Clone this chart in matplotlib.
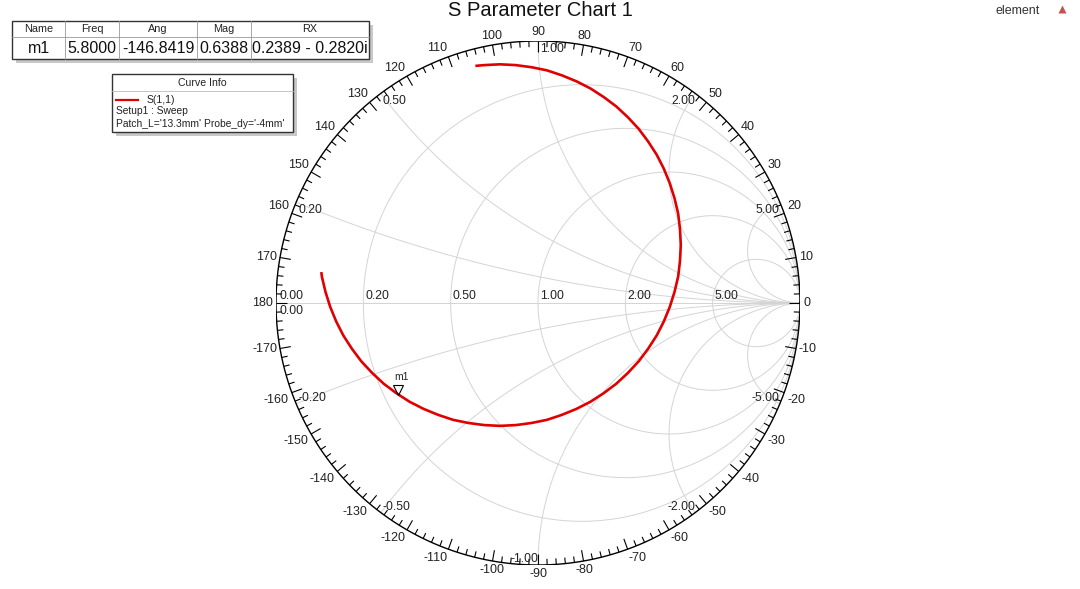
import numpy as np
import matplotlib.pyplot as plt
from matplotlib.patches import Rectangle
from matplotlib.collections import LineCollection
from matplotlib.transforms import offset_copy

plt.rcParams['font.family'] = ['Liberation Sans', 'DejaVu Sans']

s11_re = [-0.239, -0.205, -0.145, -0.085, -0.025, 0.034, 0.091, 0.147, 0.200,
          0.251, 0.299, 0.343, 0.384, 0.420, 0.453, 0.480, 0.503, 0.521,
          0.535, 0.542, 0.545, 0.542, 0.535, 0.521, 0.503, 0.480, 0.453,
          0.420, 0.384, 0.343, 0.299, 0.251, 0.200, 0.147, 0.091, 0.034,
          -0.025, -0.085, -0.145, -0.205, -0.265, -0.324, -0.381, -0.437,
          -0.490, -0.541, -0.589, -0.633, -0.674, -0.710, -0.743, -0.770,
          -0.793, -0.811, -0.825, -0.827]
s11_im = [0.905, 0.908, 0.911, 0.908, 0.900, 0.888, 0.869, 0.846, 0.819,
          0.786, 0.750, 0.709, 0.665, 0.617, 0.566, 0.513, 0.457, 0.400,
          0.341, 0.281, 0.221, 0.161, 0.101, 0.042, -0.015, -0.071, -0.124,
          -0.175, -0.223, -0.267, -0.308, -0.344, -0.377, -0.404, -0.427,
          -0.446, -0.458, -0.466, -0.469, -0.466, -0.458, -0.446, -0.427,
          -0.404, -0.377, -0.344, -0.308, -0.267, -0.223, -0.175, -0.124,
          -0.071, -0.015, 0.042, 0.101, 0.118]

# marker table
marker_cols = ['Name', 'Freq', 'Ang', 'Mag', 'RX']
marker_vals = ['m1', '5.8000', '-146.8419', '0.6388', '0.2389 - 0.2820i']
m1_mag = 0.6388
m1_ang = -146.8419

# smith grid values
r_circles = [0.2, 0.5, 1.0, 2.0, 5.0]
x_arcs = [0.2, 0.5, 1.0, 2.0, 5.0]
angle_labels = list(range(-170, 190, 10))

legend_lines = ['Setup1 : Sweep', "Patch_L='13.3mm' Probe_dy='-4mm'"]

W, H = 1080, 589
fig = plt.figure(figsize=(W / 100, H / 100), dpi=100)
fig.patch.set_facecolor('white')

cx, cy, R = 538, 303, 262
ax = fig.add_axes([(cx - R) / W, (H - (cy + R)) / H, 2 * R / W, 2 * R / H])
ax.set_xlim(-1, 1)
ax.set_ylim(-1, 1)
ax.axis('off')

grid_c = '#d4d4d4'
lab_c = '#222222'
px = 1.0 / R  # one pixel in gamma units

# resistance circles
t = np.linspace(0, 2 * np.pi, 500)
for r in r_circles:
    c = r / (1 + r)
    rad = 1 / (1 + r)
    ax.plot(c + rad * np.cos(t), rad * np.sin(t), color=grid_c, lw=0.7, zorder=1)

# reactance arcs
rr = np.concatenate([np.linspace(0, 1, 150), np.logspace(0, 4, 300)])
for x in x_arcs:
    for s in (1, -1):
        g = (rr + 1j * s * x - 1) / (rr + 1j * s * x + 1)
        ax.plot(g.real, g.imag, color=grid_c, lw=0.7, zorder=1)

ax.plot([-1, 1], [0, 0], color=grid_c, lw=0.7, zorder=1)

# outer circle and angle ticks
ax.plot(np.cos(t), np.sin(t), color='black', lw=1.0, zorder=3)
segs = []
for d in range(0, 360, 2):
    a = np.deg2rad(d)
    ln = (11 if d % 10 == 0 else 6) * px
    segs.append([(np.cos(a), np.sin(a)), ((1 - ln) * np.cos(a), (1 - ln) * np.sin(a))])
ax.add_collection(LineCollection(segs, colors='black', linewidths=0.8, zorder=3))

for d in angle_labels:
    a = np.deg2rad(d)
    ca, sa = np.cos(a), np.sin(a)
    ha = 'left' if ca > 0.2 else ('right' if ca < -0.2 else 'center')
    va = 'bottom' if sa > 0.2 else ('top' if sa < -0.2 else 'center')
    rl = 1 + 3 * px
    ax.text(rl * ca, rl * sa, str(d), ha=ha, va=va, fontsize=9, color=lab_c,
            clip_on=False)

# resistance labels along real axis
for r in r_circles:
    g = (r - 1) / (r + 1)
    ax.text(g + 2 * px, 1 * px, f'{r:.2f}', ha='left', va='bottom', fontsize=8.8, color=lab_c)
ax.text(-1 + 3 * px, 1 * px, '0.00', ha='left', va='bottom', fontsize=8.8, color=lab_c)
ax.text(-1 + 3 * px, -2 * px, '0.00', ha='left', va='top', fontsize=8.8, color=lab_c)

# reactance labels near the rim
for x in x_arcs:
    for s in (1, -1):
        g = (1j * s * x - 1) / (1j * s * x + 1)
        if x < 1 or (x == 1 and s > 0):
            ha, dx = 'left', 2 * px
        else:
            ha, dx = 'right', 0
        va = 'top' if s > 0 else 'bottom'
        dy = -2 * px if s > 0 else 0
        txt = f'{x:.2f}' if s > 0 else f'-{x:.2f}'
        ax.text(g.real + dx, g.imag + dy, txt, ha=ha, va=va, fontsize=8.8,
                color=lab_c, clip_on=False)

# trace
ax.plot(s11_re, s11_im, color='#e00000', lw=1.9, zorder=4,
        solid_capstyle='butt', solid_joinstyle='round')

# marker m1
m1 = m1_mag * np.exp(1j * np.deg2rad(m1_ang))
tr = offset_copy(ax.transData, fig=fig, x=0, y=3.5, units='points')
ax.plot([m1.real], [m1.imag], marker='v', ms=6.5, mfc='none', mec='black',
        mew=0.8, transform=tr, zorder=5)
ax.annotate('m1', (m1.real, m1.imag), xytext=(2.5, 12.5), textcoords='offset points',
            ha='center', va='center', fontsize=7.5, color=lab_c)

# overlay in pixel coordinates for title, table and legend
ov = fig.add_axes([0, 0, 1, 1])
ov.set_xlim(0, W)
ov.set_ylim(H, 0)
ov.axis('off')

ov.text(540, 11, 'S Parameter Chart 1', ha='center', va='center', fontsize=14.5, color='#111111')
ov.text(1018, 11, 'element', ha='center', va='center', fontsize=9, color='#333333')
ov.plot([1062], [9], marker='^', ms=6, color='#c85050', mec='none')

# marker table
col_x = [12, 65, 119, 197, 251, 369]
row_y = [21, 37, 59]
ov.add_patch(Rectangle((col_x[0] + 4, row_y[0] + 4), col_x[-1] - col_x[0], row_y[-1] - row_y[0],
                       fc='#c8c8c8', ec='none'))
ov.add_patch(Rectangle((col_x[0], row_y[0]), col_x[-1] - col_x[0], row_y[-1] - row_y[0],
                       fc='white', ec='#333333', lw=1.0))
ov.plot([col_x[0], col_x[-1]], [row_y[1], row_y[1]], color='#999999', lw=0.6)
for xc in col_x[1:-1]:
    ov.plot([xc, xc], [row_y[0], row_y[-1]], color='#999999', lw=0.6)
for i in range(len(marker_cols)):
    xm = (col_x[i] + col_x[i + 1]) / 2
    ov.text(xm, (row_y[0] + row_y[1]) / 2, marker_cols[i], ha='center', va='center',
            fontsize=7.8, color='#222222')
    ov.text(xm, (row_y[1] + row_y[2]) / 2 + 0.5, marker_vals[i], ha='center', va='center',
            fontsize=11.5, color='#111111')

# curve info box
bx0, bx1, by0, by1 = 112, 293, 74, 132
ov.add_patch(Rectangle((bx0 + 4, by0 + 4), bx1 - bx0, by1 - by0, fc='#c8c8c8', ec='none'))
ov.add_patch(Rectangle((bx0, by0), bx1 - bx0, by1 - by0, fc='white', ec='#333333', lw=1.0))
ov.plot([bx0, bx1], [91, 91], color='#bbbbbb', lw=0.6)
ov.text((bx0 + bx1) / 2, 83, 'Curve Info', ha='center', va='center', fontsize=7.6, color='#222222')
ov.plot([116, 138], [100, 100], color='#e00000', lw=1.6)
ov.text(147, 100, 'S(1,1)', ha='left', va='center', fontsize=7.5, color='#222222')
for i, s in enumerate(legend_lines):
    ov.text(116, 111.5 + 12.5 * i, s, ha='left', va='center', fontsize=7.4, color='#222222')

fig.savefig('out.png', dpi=100, facecolor='white')
